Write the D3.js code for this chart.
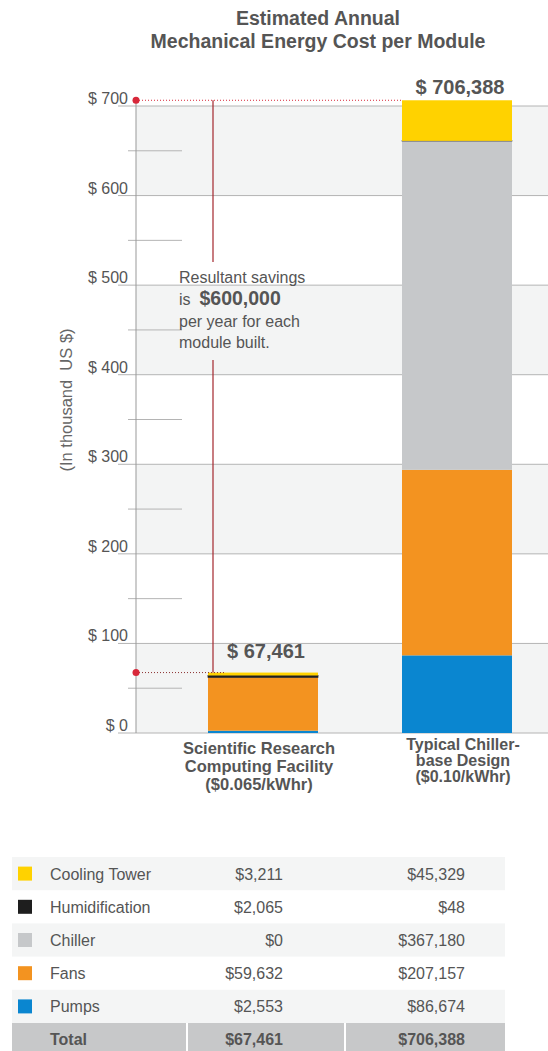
<!DOCTYPE html>
<html>
<head>
<meta charset="utf-8">
<script src="https://cdn.jsdelivr.net/npm/d3@7"></script>
<style>
  html, body { margin: 0; padding: 0; background: #fff; }
  svg { display: block; font-family: "Liberation Sans", Arial, sans-serif; }
  .pre { white-space: pre; }
</style>
</head>
<body>
<svg id="chart" width="548" height="1051"></svg>
<script>
// ---- data (US $ per year) ----
const categories = ["facility", "chiller"];
const categoryLines = [
  ["Scientific Research", "Computing Facility", "($0.065/kWhr)"],
  ["Typical Chiller-", "base Design", "($0.10/kWhr)"]
];
const components = ["Cooling Tower", "Humidification", "Chiller", "Fans", "Pumps"];
const componentColors = ["#ffd200", "#1e1e1e", "#c6c8ca", "#f39320", "#0a86d0"];
const coolingTower = [3211, 45329];
const humidification = [2065, 48];
const chiller = [0, 367180];
const fans = [59632, 207157];
const pumps = [2553, 86674];
const yTicks = [0, 100, 200, 300, 400, 500, 600, 700];          // thousand US $
const minorTicks = [50, 150, 250, 350, 450, 550, 650];
const savingsText = "$600,000";

const seriesByName = {
  "Cooling Tower": coolingTower,
  "Humidification": humidification,
  "Chiller": chiller,
  "Fans": fans,
  "Pumps": pumps
};

const rows = categories.map((c, i) => {
  const r = { category: c };
  components.forEach(k => r[k] = seriesByName[k][i] / 1000);
  return r;
});
const totals = categories.map((c, i) => components.reduce((s, k) => s + seriesByName[k][i], 0));

const fmt = d3.format(",");
const svg = d3.select("#chart");
const textCol = "#555";

// ---- scales ----
const y = d3.scaleLinear().domain([0, 700]).range([733, 106]);
const x = d3.scaleBand().domain(categories).range([124, 596]).padding(0.433);
const axisX = 136;
const color = d3.scaleOrdinal().domain(components).range(componentColors);

// ---- title ----
const title = svg.append("text").attr("text-anchor", "middle")
  .attr("fill", textCol).attr("font-size", 19.5).attr("font-weight", "bold");
title.append("tspan").attr("x", 318).attr("y", 25).text("Estimated Annual");
title.append("tspan").attr("x", 318).attr("y", 48).text("Mechanical Energy Cost per Module");

// ---- alternating background bands ----
svg.append("g").selectAll("rect")
  .data(yTicks.slice(0, -1).filter((d, i) => i % 2 === 0))
  .join("rect")
  .attr("x", axisX).attr("width", 548 - axisX)
  .attr("y", d => y(d + 100)).attr("height", d => y(d) - y(d + 100))
  .attr("fill", "#f3f4f4");

// ---- gridlines and tick labels ----
const grid = svg.append("g");
grid.selectAll("line.major").data(yTicks).join("line").attr("class", "major")
  .attr("x1", 118).attr("x2", 548)
  .attr("y1", d => y(d)).attr("y2", d => y(d))
  .attr("stroke", "#b4b4b4").attr("stroke-width", 1);
grid.selectAll("line.minor").data(minorTicks).join("line").attr("class", "minor")
  .attr("x1", 128).attr("x2", 182)
  .attr("y1", d => y(d)).attr("y2", d => y(d))
  .attr("stroke", "#b4b4b4").attr("stroke-width", 1);
grid.selectAll("text").data(yTicks).join("text")
  .attr("x", 128).attr("y", d => y(d) - 2)
  .attr("text-anchor", "end").attr("fill", textCol).attr("font-size", 16)
  .text(d => "$ " + d);

// axis line
svg.append("line").attr("x1", axisX).attr("x2", axisX)
  .attr("y1", y(700) - 6).attr("y2", y(0))
  .attr("stroke", "#999").attr("stroke-width", 1);

// axis title
svg.append("text").attr("class", "pre")
  .attr("transform", `translate(72,400) rotate(-90)`)
  .attr("text-anchor", "middle").attr("fill", "#666").attr("font-size", 16.5)
  .text("(In thousand  US $)");

// ---- stacked bars ----
const stackOrder = ["Pumps", "Fans", "Chiller", "Humidification", "Cooling Tower"];
const stacked = d3.stack().keys(stackOrder)(rows);
svg.append("g").selectAll("g").data(stacked).join("g")
  .attr("fill", d => color(d.key))
  .each(function(s) {
    d3.select(this).selectAll("rect").data(s).join("rect")
      .attr("x", d => x(d.data.category))
      .attr("width", x.bandwidth())
      .attr("y", d => y(d[1]))
      .attr("height", d => y(d[0]) - y(d[1]))
      .attr("stroke", s.key === "Humidification" ? color(s.key) : "none")
      .attr("stroke-width", s.key === "Humidification" ? 0.8 : 0);
  });

// ---- total labels ----
const labelLift = [15, 6];
svg.append("g").selectAll("text").data(categories).join("text")
  .attr("x", (c, i) => x(c) + x.bandwidth() / 2 + 3)
  .attr("y", (c, i) => y(totals[i] / 1000) - labelLift[i])
  .attr("text-anchor", "middle").attr("fill", textCol)
  .attr("font-size", 20).attr("font-weight", "bold")
  .text((c, i) => "$ " + fmt(totals[i]));

// ---- savings markers ----
const hiY = y(totals[1] / 1000), loY = y(totals[0] / 1000);
const red = "#d8283a", darkRed = "#a3252c";
svg.append("line").attr("x1", axisX).attr("x2", x(categories[1]))
  .attr("y1", hiY).attr("y2", hiY)
  .attr("stroke", red).attr("stroke-width", 1).attr("stroke-dasharray", "1,2");
svg.append("line").attr("x1", axisX).attr("x2", x(categories[0]) + 17)
  .attr("y1", loY).attr("y2", loY)
  .attr("stroke", "#8a3030").attr("stroke-width", 1).attr("stroke-dasharray", "1,2");
const vx = 213;
svg.append("line").attr("x1", vx).attr("x2", vx).attr("y1", hiY).attr("y2", 262)
  .attr("stroke", darkRed).attr("stroke-width", 1.2);
svg.append("line").attr("x1", vx).attr("x2", vx).attr("y1", 360).attr("y2", loY)
  .attr("stroke", darkRed).attr("stroke-width", 1.2);
svg.append("g").selectAll("circle").data([hiY, loY]).join("circle")
  .attr("cx", axisX).attr("cy", d => d).attr("r", 3.5).attr("fill", red);

// annotation
const note = svg.append("text").attr("class", "pre").attr("fill", textCol).attr("font-size", 16);
note.append("tspan").attr("x", 179).attr("y", 283).text("Resultant savings");
const l2 = note.append("tspan").attr("x", 179).attr("y", 305);
l2.append("tspan").text("is  ");
l2.append("tspan").attr("font-weight", "bold").attr("font-size", 19.5).text(savingsText);
note.append("tspan").attr("x", 179).attr("y", 327).text("per year for each");
note.append("tspan").attr("x", 179).attr("y", 348).text("module built.");

// ---- category labels ----
svg.append("g").selectAll("text").data(categories).join("text")
  .attr("text-anchor", "middle").attr("fill", textCol)
  .attr("font-weight", "bold").attr("font-size", (c, i) => i === 0 ? 16.5 : 16)
  .each(function(c, i) {
    const cx = x(c) + x.bandwidth() / 2 + (i === 0 ? -4 : 6);
    const y0 = i === 0 ? 754 : 750;
    const step = i === 0 ? 18 : 16;
    d3.select(this).selectAll("tspan").data(categoryLines[i]).join("tspan")
      .attr("x", cx).attr("y", (l, j) => y0 + j * step).text(l => l);
  });

// ---- data table ----
const tbl = svg.append("g");
const rowH = 33.2, tableTop = 857, tableLeft = 12, tableRight = 505;
const col2 = 283, col3 = 465;
components.forEach((k, i) => {
  const ry = tableTop + i * rowH;
  if (i % 2 === 0) {
    tbl.append("rect").attr("x", tableLeft).attr("y", ry).attr("width", tableRight - tableLeft)
      .attr("height", rowH).attr("fill", "#f4f5f5");
  }
  tbl.append("rect").attr("x", 18).attr("y", ry + rowH / 2 - 7).attr("width", 14).attr("height", 14)
    .attr("fill", color(k));
  const t = tbl.append("g").attr("fill", textCol).attr("font-size", 16);
  t.append("text").attr("x", 50).attr("y", ry + rowH / 2 + 6).text(k);
  t.append("text").attr("x", col2).attr("y", ry + rowH / 2 + 6).attr("text-anchor", "end")
    .text("$" + fmt(seriesByName[k][0]));
  t.append("text").attr("x", col3).attr("y", ry + rowH / 2 + 6).attr("text-anchor", "end")
    .text("$" + fmt(seriesByName[k][1]));
});
const ty = tableTop + components.length * rowH;
tbl.append("rect").attr("x", tableLeft).attr("y", ty).attr("width", tableRight - tableLeft)
  .attr("height", 1051 - ty).attr("fill", "#c7c8c9");
[187, 345].forEach(sx => tbl.append("rect").attr("x", sx - 1).attr("y", ty)
  .attr("width", 2).attr("height", 1051 - ty).attr("fill", "#fff"));
const tt = tbl.append("g").attr("fill", textCol).attr("font-size", 16).attr("font-weight", "bold");
tt.append("text").attr("x", 50).attr("y", ty + 22).text("Total");
tt.append("text").attr("x", col2).attr("y", ty + 22).attr("text-anchor", "end").text("$" + fmt(totals[0]));
tt.append("text").attr("x", col3).attr("y", ty + 22).attr("text-anchor", "end").text("$" + fmt(totals[1]));
</script>
</body>
</html>
